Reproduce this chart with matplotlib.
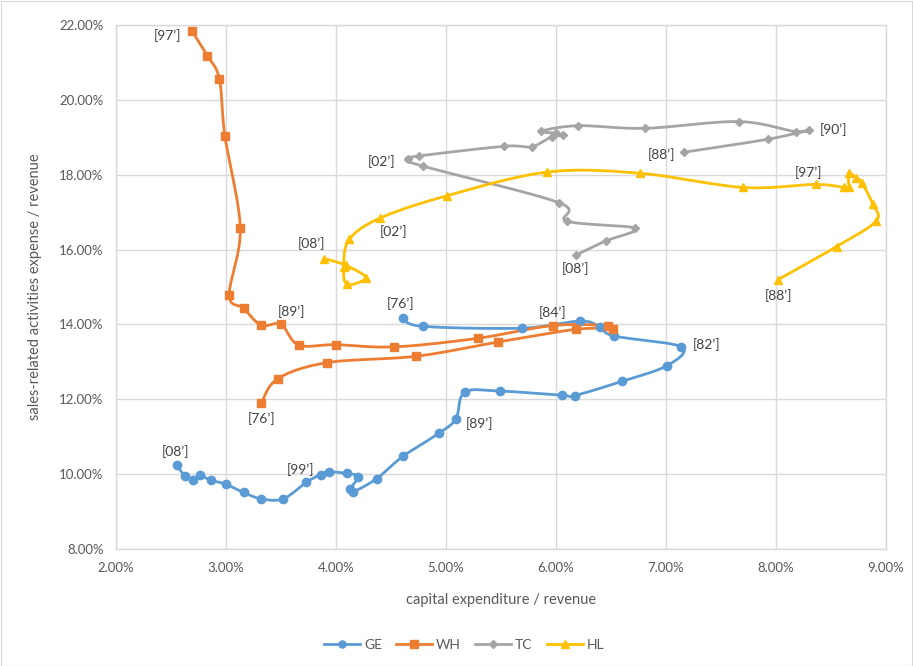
import numpy as np
import matplotlib
matplotlib.use("Agg")
import matplotlib.pyplot as plt
from matplotlib.ticker import FuncFormatter, MultipleLocator
from matplotlib.lines import Line2D
from matplotlib.patches import Rectangle

plt.rcParams["font.family"] = ["Lato", "DejaVu Sans"]

# capital expenditure / revenue (%), sales-related expense / revenue (%)
ge_years = list(range(1976, 2009))
ge_x = [4.61, 4.79, 5.69, 6.22, 6.40, 6.53, 7.14, 7.01, 6.60, 6.17, 6.05, 5.49, 5.17,
        5.09, 4.94, 4.61, 4.37, 4.15, 4.13, 4.20, 4.10, 3.94, 3.86, 3.73, 3.52, 3.32,
        3.16, 3.00, 2.86, 2.76, 2.70, 2.63, 2.55]
ge_y = [14.16, 13.95, 13.90, 14.09, 13.93, 13.69, 13.40, 12.90, 12.48, 12.10, 12.11, 12.22, 12.19,
        11.48, 11.10, 10.48, 9.88, 9.52, 9.61, 9.93, 10.02, 10.06, 9.99, 9.78, 9.34, 9.34,
        9.51, 9.73, 9.84, 9.97, 9.84, 9.94, 10.24]

wh_years = list(range(1976, 1998))
wh_x = [3.32, 3.47, 3.92, 4.73, 5.47, 6.18, 6.52, 6.47, 5.97, 5.29, 4.53, 4.00, 3.66,
        3.50, 3.32, 3.16, 3.03, 3.13, 2.99, 2.94, 2.83, 2.69]
wh_y = [11.89, 12.55, 12.98, 13.15, 13.53, 13.87, 13.89, 13.97, 13.97, 13.63, 13.40, 13.46, 13.45,
        14.00, 13.98, 14.43, 14.79, 16.57, 19.03, 20.56, 21.18, 21.84]

tc_years = list(range(1988, 2009))
tc_x = [7.16, 7.93, 8.30, 8.18, 7.66, 6.81, 6.20, 5.86, 6.00, 6.06, 5.96, 5.78, 5.53,
        4.75, 4.65, 4.79, 6.03, 6.10, 6.72, 6.45, 6.18]
tc_y = [18.60, 18.95, 19.20, 19.15, 19.42, 19.24, 19.31, 19.16, 19.11, 19.05, 19.01, 18.75, 18.76,
        18.50, 18.41, 18.23, 17.25, 16.76, 16.57, 16.23, 15.85]

hl_years = list(range(1988, 2009))
hl_x = [8.02, 8.55, 8.91, 8.88, 8.78, 8.73, 8.66, 8.66, 8.62, 8.36, 7.70, 6.76, 5.92,
        5.01, 4.40, 4.12, 4.07, 4.10, 4.27, 4.09, 3.89]
hl_y = [15.20, 16.08, 16.76, 17.21, 17.79, 17.92, 18.04, 17.68, 17.66, 17.74, 17.66, 18.04, 18.07,
        17.44, 16.84, 16.27, 15.54, 15.07, 15.25, 15.58, 15.76]

series_names = ["GE", "WH", "TC", "HL"]
series_colors = ["#5B9BD5", "#ED7D31", "#A5A5A5", "#FFC000"]

# years that carry a "[yy’]" label, with the label offset in pixels
ge_labels = {1976: (-3, 15), 1982: (25, 2), 1989: (24, -5), 1999: (-6, 13), 2008: (-1, 14)}
wh_labels = {1976: (0, -15), 1984: (0, 13), 1989: (10, 13), 1997: (-24, -5)}
tc_labels = {1988: (-22, -2), 1990: (24, 0), 2002: (-26, -2), 2008: (0, -13)}
hl_labels = {1988: (0, -16), 1997: (-7, 12), 2002: (14, -13), 2008: (-12, 15)}


def smooth_path(x, y, n=24):
    """Smoothed curve through the points (cubic Bezier, Catmull-Rom tangents)."""
    pts = np.column_stack([x, y]).astype(float)
    P = np.vstack([pts[0], pts, pts[-1]])
    t = np.linspace(0, 1, n)[:, None]
    out = []
    for i in range(1, len(P) - 2):
        p0, p1, p2, p3 = P[i - 1], P[i], P[i + 1], P[i + 2]
        c1 = p1 + (p2 - p0) / 6.0
        c2 = p2 - (p3 - p1) / 6.0
        seg = (1 - t) ** 3 * p1 + 3 * (1 - t) ** 2 * t * c1 + 3 * (1 - t) * t ** 2 * c2 + t ** 3 * p2
        out.append(seg if i == 1 else seg[1:])
    return np.vstack(out)


W, H = 913, 666
fig = plt.figure(figsize=(W / 100, H / 100), dpi=100)
fig.patches.append(Rectangle((0.5 / W, 0.5 / H), 1 - 1.5 / W, 1 - 1.5 / H, transform=fig.transFigure,
                             fill=False, edgecolor="#D9D9D9", linewidth=0.8))
ax = fig.add_axes([116 / W, 1 - 549 / H, (886 - 116) / W, (549 - 25) / H])

series = [
    (ge_x, ge_y, ge_years, ge_labels, "o", 6.0),
    (wh_x, wh_y, wh_years, wh_labels, "s", 6.0),
    (tc_x, tc_y, tc_years, tc_labels, "D", 4.4),
    (hl_x, hl_y, hl_years, hl_labels, "^", 6.3),
]

handles = []
for (xs, ys, yrs, labs, mk, ms), name, col in zip(series, series_names, series_colors):
    curve = smooth_path(xs, ys)
    ax.plot(curve[:, 0], curve[:, 1], color=col, lw=2.0, solid_capstyle="round", zorder=3)
    ax.plot(xs, ys, linestyle="none", marker=mk, markersize=ms, color=col,
            markeredgecolor=col, zorder=4)
    for yr, (dx, dy) in labs.items():
        i = yrs.index(yr)
        ax.annotate(f"[{yr % 100:02d}’]", (xs[i], ys[i]), xytext=(dx, dy),
                    textcoords="offset pixels", ha="center", va="center",
                    fontsize=10, color="#404040", zorder=5)
    handles.append(Line2D([], [], color=col, lw=2.0, marker=mk, markersize=ms * 0.85,
                          markeredgecolor=col, label=name))

ax.set_xlim(2, 9)
ax.set_ylim(8, 22)
ax.xaxis.set_major_locator(MultipleLocator(1))
ax.yaxis.set_major_locator(MultipleLocator(2))
ax.xaxis.set_major_formatter(FuncFormatter(lambda v, p: f"{v:.2f}%"))
ax.yaxis.set_major_formatter(FuncFormatter(lambda v, p: f"{v:.2f}%"))
ax.grid(True, color="#D9D9D9", lw=1.0, zorder=0)
ax.set_axisbelow(True)
for s in ax.spines.values():
    s.set_color("#D9D9D9")
    s.set_linewidth(1.0)
ax.tick_params(length=0, labelsize=9.5, colors="#595959", pad=9)

ax.set_xlabel("capital expenditure / revenue", fontsize=10.5, color="#595959", labelpad=14)
ax.set_ylabel("sales-related activities expense / revenue", fontsize=10.5, color="#595959",
              labelpad=12)

fig.legend(handles=handles, loc="center", bbox_to_anchor=(464 / W, 1 - 645 / H), ncol=4,
           frameon=False, fontsize=10, labelcolor="#595959", handlelength=2.6,
           columnspacing=1.0, handletextpad=0.3)

fig.savefig("out.png", dpi=100)
